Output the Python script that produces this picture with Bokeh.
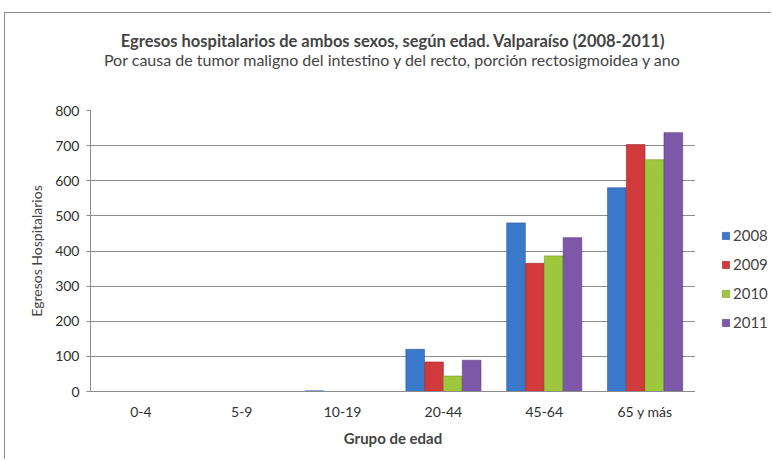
from bokeh.plotting import figure
from bokeh.layouts import row
from bokeh.models import (FactorRange, Range1d, Title, Legend, LegendItem, SingleIntervalTicker,
                          ColumnDataSource)
from bokeh.transform import dodge
from bokeh.embed import file_html
from bokeh.resources import INLINE

categories = ["0-4", "5-9", "10-19", "20-44", "45-64", "65 y más"]
years = ["2008", "2009", "2010", "2011"]
v2008 = [0, 0, 2, 120, 480, 580]
v2009 = [0, 0, 0, 84, 365, 703]
v2010 = [0, 0, 0, 44, 386, 660]
v2011 = [0, 0, 0, 89, 438, 737]
colors = ["#3A78C9", "#D03A3C", "#9DC83E", "#7D58A8"]
edge = ["#285A9E", "#9E2626", "#7A9A22", "#5A3D80"]
title = "Egresos hospitalarios de ambos sexos, según edad. Valparaíso (2008-2011)"
subtitle = "Por causa de tumor maligno del intestino y del recto, porción rectosigmoidea y ano"

FONT = "Lato"
H = 446
W_MAIN = 690
W_LEG = 76

src = ColumnDataSource(dict(cat=categories, y2008=v2008, y2009=v2009, y2010=v2010, y2011=v2011))

p = figure(x_range=FactorRange(*categories, range_padding=0), y_range=Range1d(0, 800),
           width=W_MAIN, height=H, output_backend="svg", toolbar_location=None,
           title=title,
           min_border_left=85, min_border_right=0, min_border_top=97, min_border_bottom=68)
p.outline_line_color = None
p.background_fill_color = "white"

# titles: main title outermost; spacer (added first) sits next to the frame
p.title.align = "center"
p.title.text_font = FONT
p.title.text_font_size = "16.5px"
p.title.text_font_style = "bold"
p.title.standoff = -7
p.add_layout(Title(text=" ", align="center", text_font=FONT, text_font_size="13px",
                   standoff=24), "above")
p.add_layout(Title(text=subtitle, align="center", text_font=FONT, text_font_size="16px",
                   text_font_style="normal", standoff=0), "above")

offsets = [-0.28, -0.093, 0.093, 0.28]
for i, yr in enumerate(years):
    p.vbar(x=dodge("cat", offsets[i], range=p.x_range), top="y" + yr, width=0.185,
           source=src, fill_color=colors[i], line_color=edge[i], line_width=0.6)

# axes
p.yaxis.ticker = SingleIntervalTicker(interval=100)
p.yaxis.axis_line_color = "#8c8c8c"
p.yaxis.major_tick_line_color = "#8c8c8c"
p.yaxis.major_tick_out = 4
p.yaxis.major_tick_in = 0
p.yaxis.minor_tick_line_color = None
p.yaxis.major_label_text_font = FONT
p.yaxis.major_label_text_font_size = "14px"
p.yaxis.major_label_text_color = "#303030"
p.yaxis.major_label_standoff = 7
p.yaxis.axis_label = "Egresos Hospitalarios"
p.yaxis.axis_label_text_font = FONT
p.yaxis.axis_label_text_font_size = "14px"
p.yaxis.axis_label_text_font_style = "normal"
p.yaxis.axis_label_standoff = 7

p.xaxis.axis_line_color = "#8c8c8c"
p.xaxis.major_tick_line_color = None
p.xaxis.minor_tick_line_color = None
p.xaxis.major_label_text_font = FONT
p.xaxis.major_label_text_font_size = "14px"
p.xaxis.major_label_text_color = "#303030"
p.xaxis.major_label_standoff = 5
p.xaxis.axis_label = "Grupo de edad"
p.xaxis.axis_label_text_font = FONT
p.xaxis.axis_label_text_font_size = "15px"
p.xaxis.axis_label_text_font_style = "bold"
p.xaxis.axis_label_standoff = 6

p.xgrid.grid_line_color = None
p.ygrid.grid_line_color = "#8c8c8c"
p.ygrid.grid_line_width = 1

# legend panel: a separate narrow figure; its stub bars are pushed outside its visible range
lf = figure(x_range=FactorRange(*categories), y_range=Range1d(1, 2), width=W_LEG, height=H,
            output_backend="svg", toolbar_location=None, x_axis_type=None, y_axis_type=None,
            min_border_left=0, min_border_right=0, min_border_top=0, min_border_bottom=0)
lf.outline_line_color = None
lf.grid.visible = False
stub = ColumnDataSource(dict(cat=categories[-1:], top=[0]))
items = []
for i, yr in enumerate(years):
    r = lf.vbar(x=dodge("cat", 20, range=lf.x_range), top="top", width=0.185, source=stub,
                fill_color=colors[i], line_color=edge[i], line_width=0.6)
    items.append(LegendItem(label=yr, renderers=[r]))

legend = Legend(items=items, location=(26, 60), glyph_width=9, glyph_height=9,
                spacing=11, padding=0, margin=0,
                label_text_font=FONT, label_text_font_size="15px", label_standoff=3,
                border_line_color=None, background_fill_alpha=0)
lf.add_layout(legend, "center")

layout = row(p, lf, spacing=0,
             styles={"margin-left": "4px", "margin-top": "12px",
                     "border-left": "1px solid #8c8c8c", "border-top": "1px solid #8c8c8c"})

open("out.html", "w").write(file_html(layout, INLINE))
